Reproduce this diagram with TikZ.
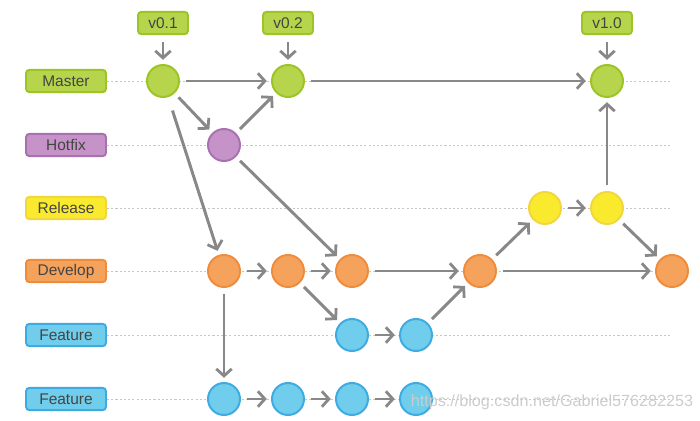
\documentclass[tikz,border=0pt]{standalone}
\usepackage{fontspec}
\setmainfont{Liberation Sans}
\usetikzlibrary{arrows.meta}

\definecolor{greenfill}{HTML}{B6D44C}
\definecolor{greenedge}{HTML}{9DC425}
\definecolor{purplefill}{HTML}{C593C8}
\definecolor{purpleedge}{HTML}{A970B1}
\definecolor{yellowfill}{HTML}{FAEA2E}
\definecolor{yellowedge}{HTML}{F2D640}
\definecolor{orangefill}{HTML}{F5A35C}
\definecolor{orangeedge}{HTML}{EF8C3C}
\definecolor{bluefill}{HTML}{70CDEB}
\definecolor{blueedge}{HTML}{3DABE2}
\definecolor{arrowgray}{HTML}{888888}
\definecolor{textgray}{HTML}{444444}

\tikzset{
  commit/.style={circle, line width=1.4pt, minimum size=0.8cm, inner sep=0pt},
  branchbox/.style={rounded corners=2.5pt, line width=1.4pt, minimum width=2cm,
    minimum height=0.56cm, inner sep=0pt, text=textgray,
    font=\fontsize{11}{13}\selectfont},
  tagbox/.style={branchbox, minimum width=1.25cm},
  flow/.style={-{Straight Barb[length=5pt, width=11pt, line width=2pt]},
    line width=2.1pt, draw=arrowgray, shorten <=4pt, shorten >=3pt},
  lane/.style={dash pattern=on 1.5pt off 1.5pt, draw=gray!45, line width=0.7pt},
  gc/.style={commit, fill=greenfill, draw=greenedge},
  pc/.style={commit, fill=purplefill, draw=purpleedge},
  yc/.style={commit, fill=yellowfill, draw=yellowedge},
  oc/.style={commit, fill=orangefill, draw=orangeedge},
  bc/.style={commit, fill=bluefill, draw=blueedge},
}

\begin{document}
\begin{tikzpicture}[x=0.025cm, y=-0.025cm]
  \useasboundingbox (0,0) rectangle (700,421);

  % Branch labels
  \node[branchbox, fill=greenfill, draw=greenedge] (lmaster) at (66,81) {Master};
  \node[branchbox, fill=purplefill, draw=purpleedge] (lhotfix) at (66,145) {Hotfix};
  \node[branchbox, fill=yellowfill, draw=yellowedge] (lrelease) at (66,208) {Release};
  \node[branchbox, fill=orangefill, draw=orangeedge] (ldevelop) at (66,271) {Develop};
  \node[branchbox, fill=bluefill, draw=blueedge] (lfeatA) at (66,335) {Feature};
  \node[branchbox, fill=bluefill, draw=blueedge] (lfeatB) at (66,399) {Feature};

  % Commits
  \coordinate (laneend) at (672,0);
  \draw[lane] (lmaster.east) -- (lmaster.east -| laneend);
  \draw[lane] (lhotfix.east) -- (lhotfix.east -| laneend);
  \draw[lane] (lrelease.east) -- (lrelease.east -| laneend);
  \draw[lane] (ldevelop.east) -- (ldevelop.east -| laneend);
  \draw[lane] (lfeatA.east) -- (lfeatA.east -| laneend);
  \draw[lane] (lfeatB.east) -- (lfeatB.east -| laneend);

  \node[gc] (m1) at (163,81) {};
  \node[gc] (m2) at (288,81) {};
  \node[gc] (m3) at (607,81) {};
  \node[pc] (h1) at (224,145) {};
  \node[yc] (r1) at (545,208) {};
  \node[yc] (r2) at (607,208) {};
  \node[oc] (d1) at (224,271) {};
  \node[oc] (d2) at (288,271) {};
  \node[oc] (d3) at (352,271) {};
  \node[oc] (d4) at (480,271) {};
  \node[oc] (d5) at (672,271) {};
  \node[bc] (fa1) at (352,335) {};
  \node[bc] (fa2) at (416,335) {};
  \node[bc] (fb1) at (224,399) {};
  \node[bc] (fb2) at (288,399) {};
  \node[bc] (fb3) at (352,399) {};
  \node[bc] (fb4) at (416,399) {};

  % Tags
  \node[tagbox, fill=greenfill, draw=greenedge] (t01) at (163,23) {v0.1};
  \node[tagbox, fill=greenfill, draw=greenedge] (t02) at (288,23) {v0.2};
  \node[tagbox, fill=greenfill, draw=greenedge] (t10) at (607,23) {v1.0};
  \draw[flow, shorten <=5pt] (t01) -- (m1);
  \draw[flow, shorten <=5pt] (t02) -- (m2);
  \draw[flow, shorten <=5pt] (t10) -- (m3);

  % Merges and branches
  \draw[flow] (m1) -- (m2);
  \draw[flow] (m2) -- (m3);
  \draw[flow] (m1) -- (h1);
  \draw[flow] (h1) -- (m2);
  \draw[flow, shorten <=10pt] (m1) -- (d1);
  \draw[flow] (h1) -- (d3);
  \draw[flow] (d1) -- (d2);
  \draw[flow] (d2) -- (d3);
  \draw[flow] (d2) -- (fa1);
  \draw[flow] (fa1) -- (fa2);
  \draw[flow] (fa2) -- (d4);
  \draw[flow] (d3) -- (d4);
  \draw[flow] (d4) -- (r1);
  \draw[flow] (r1) -- (r2);
  \draw[flow] (r2) -- (m3);
  \draw[flow] (r2) -- (d5);
  \draw[flow] (d4) -- (d5);
  \draw[flow] (d1) -- (fb1);
  \draw[flow] (fb1) -- (fb2);
  \draw[flow] (fb2) -- (fb3);
  \draw[flow] (fb3) -- (fb4);

  % Watermark
  \node[text=gray!40, font=\fontsize{11.5}{13}\selectfont] (wmark) at (552,402)
    {https://blog.csdn.net/Gabriel576282253};
\end{tikzpicture}
\end{document}
